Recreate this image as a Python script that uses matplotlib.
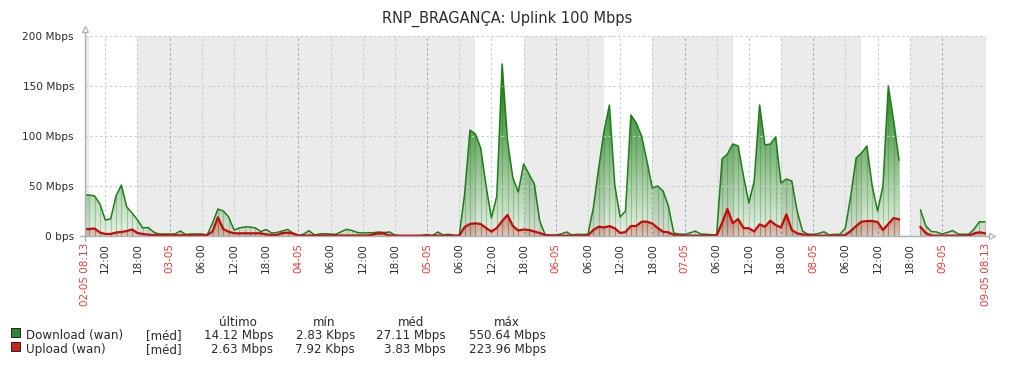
import numpy as np
import matplotlib
matplotlib.use('Agg')
import matplotlib.pyplot as plt
import matplotlib.colors as mcolors
from matplotlib.path import Path
from matplotlib.patches import PathPatch, Rectangle
from matplotlib.lines import Line2D

nan = np.nan

# hours since 02-05 00:00, one trend value per hour (Mbps)
hours = list(range(8, 177))
download = [
    41, 41, 40, 32, 16, 17, 40, 51, 29, 23,
    16, 8, 8.5, 4, 2, 2, 2, 2, 5, 1.5,
    2, 2, 2, 1, 13, 27, 25, 19, 6, 8,
    9, 9, 8, 4.5, 6.5, 3, 3.5, 5, 6.5, 3,
    0.3, 2, 5.3, 1, 2, 2.3, 2, 1.7, 4.3, 6.7,
    5.5, 3.5, 3, 3.3, 3.3, 4, 3.5, 4, 1, 0.3,
    0.3, 0.3, 0.3, 0.5, 1.5, 0.3, 4, 1, 1.7, 0.7,
    0.3, 42, 106, 102, 88, 50, 18, 40, 172, 95,
    58, 44, 72, 62, 52, 15, 1.5, 1, 1, 2,
    4, 1, 1.7, 1.5, 1.7, 28, 68, 105, 131, 51,
    19, 25, 121, 113, 100, 75, 48, 50, 45, 30,
    3, 2, 1.7, 3, 5, 2, 1.7, 1.5, 1, 77,
    82, 92, 90, 60, 33, 55, 131, 91, 92, 99,
    53, 57, 55, 25, 5, 1.7, 1.7, 2.5, 4.3, 1,
    1.7, 1.7, 8, 40, 78, 83, 90, 50, 25, 50,
    150, 115, 76, nan, nan, nan, 26, 10, 4.5, 4,
    2, 3.5, 5.5, 2, 1.7, 1.7, 7, 14.3, 14.12,
]
upload = [
    7, 7, 7.5, 3.5, 2, 2, 3.5, 4, 5, 6.5,
    3, 2, 1.3, 1, 1, 0.8, 0.7, 0.7, 0.7, 0.7,
    0.7, 0.7, 0.7, 1, 4.5, 18.7, 7, 4.3, 2.7, 2.7,
    2.7, 2.7, 2.7, 2.7, 1.5, 1, 1, 3, 3.3, 2.5,
    0.5, 0.5, 0.5, 0.5, 0.5, 0.5, 0.5, 0.5, 0.5, 0.5,
    0.5, 0.5, 0.5, 0.5, 1.7, 2.7, 2.5, 0.5, 0.3, 0.3,
    0.3, 0.3, 0.3, 0.3, 0.3, 0.3, 0.3, 0.3, 0.3, 0.3,
    0.3, 9, 12, 12.7, 12, 8, 4.5, 8, 15, 21,
    10, 5.5, 6.5, 6, 4.5, 3, 1, 0.3, 0.3, 0.3,
    0.3, 0.3, 0.3, 0.3, 0.5, 6, 9.3, 8.5, 10, 7.7,
    3, 4, 10, 10, 14.3, 14.3, 12.5, 8, 4.3, 3.7,
    1, 0.3, 0.3, 0.3, 0.3, 0.3, 0.3, 0.3, 0.5, 13,
    27, 12.7, 17, 8, 7.7, 4.5, 11.7, 9.3, 15.3, 11,
    8.5, 21.7, 6, 2.7, 1.5, 1, 0.5, 0.3, 0.3, 0.3,
    0.3, 0.3, 1, 5, 10, 14.3, 15, 15, 14, 6,
    12, 18, 16.7, nan, nan, nan, 9, 3, 0.5, 0.3,
    0.3, 0.3, 0.3, 0.3, 0.3, 0.3, 2.5, 3.8, 2.63,
]

t_start = 8 + 13 / 60   # 02-05 08:13
t_end = 176 + 13 / 60   # 09-05 08:13

# working time (not shaded)
work_periods = [(9, 18), (81, 90), (105, 114), (129, 138), (153, 162)]

tick_hours = [t_start, 12, 18, 24, 30, 36, 42, 48, 54, 60, 66, 72, 78, 84, 90,
              96, 102, 108, 114, 120, 126, 132, 138, 144, 150, 156, 162, 168, t_end]
tick_labels = ['02-05 08:13', '12:00', '18:00', '03-05', '06:00', '12:00', '18:00',
               '04-05', '06:00', '12:00', '18:00', '05-05', '06:00', '12:00', '18:00',
               '06-05', '06:00', '12:00', '18:00', '07-05', '06:00', '12:00', '18:00',
               '08-05', '06:00', '12:00', '18:00', '09-05', '09-05 08:13']

y_ticks = [0, 50, 100, 150, 200]
y_labels = ['0 bps', '50 Mbps', '100 Mbps', '150 Mbps', '200 Mbps']

legend_names = ['Download (wan)', 'Upload (wan)']
legend_func = ['[méd]', '[méd]']
legend_last = ['14.12 Mbps', '2.63 Mbps']
legend_min = ['2.83 Kbps', '7.92 Kbps']
legend_avg = ['27.11 Mbps', '3.83 Mbps']
legend_max = ['550.64 Mbps', '223.96 Mbps']

green = '#1c7e16'
red = '#c40a0a'
grid_c = '#c6cdd4'
day_c = '#a3acb5'
axis_c = '#a7b1bb'
text_c = '#2b2b2b'
date_c = '#e23b3b'

W, H = 1016, 368


def fx(p):
    return p / W


def fy(p):
    return 1 - p / H


def gradient_fill(ax, x, y, color, a_bottom, a_top, y_top, z):
    coll = ax.fill_between(x, 0, y, facecolor='none', edgecolor='none')
    path = Path.make_compound_path(*coll.get_paths())
    clip = PathPatch(path, transform=ax.transData, facecolor='none', edgecolor='none')
    ax.add_patch(clip)
    img = np.zeros((256, 1, 4))
    img[:, :, :3] = mcolors.to_rgb(color)
    img[:, 0, 3] = np.clip(np.linspace(a_bottom, a_top, 256), 0, 1)
    im = ax.imshow(img, extent=[t_start, t_end, 0, y_top], origin='lower',
                   aspect='auto', zorder=z, interpolation='bilinear')
    im.set_clip_path(clip)


fig = plt.figure(figsize=(W / 100, H / 100), dpi=100)
ax = fig.add_axes([fx(85), fy(236), fx(901), 200 / H])
ax.set_facecolor('#ebebeb')
for a, b in work_periods:
    ax.axvspan(a, b, color='white', lw=0, zorder=0)

x = np.array(hours, dtype=float)
d = np.array(download, dtype=float)
u = np.array(upload, dtype=float)

# download: gradient fill, hourly hairlines, line
gradient_fill(ax, x, d, green, 0.1, 1.2, 200, 1)
ax.vlines(x, 0, d, colors=green, alpha=0.3, lw=0.8, zorder=1.2)
# upload
gradient_fill(ax, x, u, '#b02010', 0.2, 0.6, 40, 1.4)
ax.vlines(x, 0, u, colors='#a04030', alpha=0.3, lw=0.8, zorder=1.5)

# grid above fills
for t, lab in zip(tick_hours[1:], tick_labels[1:]):
    c = day_c if '-' in lab else grid_c
    ax.axvline(t, color=c, lw=0.8, ls=(0, (2.2, 2.2)), zorder=2)
for v in y_ticks[1:]:
    ax.axhline(v, color=grid_c, lw=0.8, ls=(0, (2.2, 2.2)), zorder=2)

ax.plot(x, d, color=green, lw=1.1, zorder=3)
ax.plot(x, u, color=red, lw=1.6, zorder=4)

ax.set_xlim(t_start, t_end)
ax.set_ylim(0, 200)
for s in ax.spines.values():
    s.set_visible(False)

ax.set_xticks(tick_hours)
ax.set_xticklabels(tick_labels, rotation=90, fontsize=7.5)
for lbl, lab in zip(ax.get_xticklabels(), tick_labels):
    lbl.set_color(date_c if '-' in lab else text_c)
ax.set_yticks(y_ticks)
ax.set_yticklabels(y_labels, fontsize=7.6, color=text_c)
ax.tick_params(axis='x', length=0, pad=5)
ax.tick_params(axis='y', length=0, pad=8)

# axis lines with open arrow heads
fig.add_artist(Line2D([fx(80), fx(991)], [fy(236), fy(236)], color=axis_c, lw=1))
fig.add_artist(Line2D([fx(85), fx(85)], [fy(241), fy(31)], color=axis_c, lw=1))
fig.add_artist(Line2D([fx(85)], [fy(29)], marker='^', ms=5, mfc='white', mec=axis_c, mew=0.9))
fig.add_artist(Line2D([fx(992)], [fy(236)], marker='>', ms=5, mfc='white', mec=axis_c, mew=0.9))

fig.text(fx(507), fy(19), 'RNP_BRAGANÇA: Uplink 100 Mbps', ha='center', va='center',
         fontsize=10.5, color=text_c)

# legend table
lf = 8.6
hdr_y = 322
fig.text(fx(238), fy(hdr_y), 'último', ha='center', va='center', fontsize=lf, color=text_c)
fig.text(fx(324), fy(hdr_y), 'mín', ha='center', va='center', fontsize=lf, color=text_c)
fig.text(fx(411), fy(hdr_y), 'méd', ha='center', va='center', fontsize=lf, color=text_c)
fig.text(fx(507), fy(hdr_y), 'máx', ha='center', va='center', fontsize=lf, color=text_c)
rows_y = [336, 350]
sq_colors = ['#2e8b2e', '#cc2020']
for i in range(2):
    ry = rows_y[i]
    fig.add_artist(Rectangle((fx(10.5), fy(ry + 0.5)), 9 / W, 9 / H, transform=fig.transFigure,
                             facecolor=sq_colors[i], edgecolor='#222222', lw=0.7))
    fig.text(fx(26), fy(ry), legend_names[i], ha='left', va='center', fontsize=lf, color=text_c)
    fig.text(fx(146), fy(ry), legend_func[i], ha='left', va='center', fontsize=lf, color=text_c)
    fig.text(fx(273), fy(ry), legend_last[i], ha='right', va='center', fontsize=lf, color=text_c)
    fig.text(fx(355), fy(ry), legend_min[i], ha='right', va='center', fontsize=lf, color=text_c)
    fig.text(fx(446), fy(ry), legend_avg[i], ha='right', va='center', fontsize=lf, color=text_c)
    fig.text(fx(546), fy(ry), legend_max[i], ha='right', va='center', fontsize=lf, color=text_c)

fig.savefig('out.png', dpi=100, facecolor='white')
